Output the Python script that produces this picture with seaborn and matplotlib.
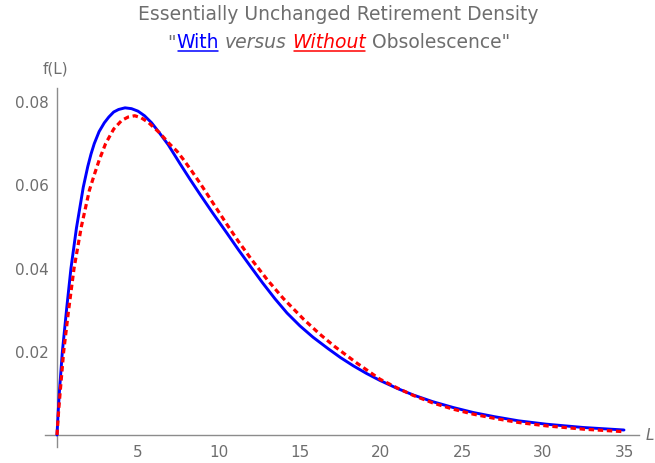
import numpy as np
import pandas as pd
import matplotlib
matplotlib.use("Agg")
import matplotlib.pyplot as plt
import seaborn as sns
from matplotlib.lines import Line2D
from matplotlib.ticker import FixedLocator

# ---------------- data ----------------
L_with = [0, 0.08, 0.15, 0.33, 0.6, 0.86, 1.2, 1.62, 1.9, 2.1, 2.3, 2.6, 2.92, 3.2,
          3.5, 3.8, 4.2, 4.6, 5.0, 5.4, 5.84, 6.3, 6.87, 7.59, 8.2, 8.83, 9.6,
          10.47, 11.2, 12.0, 12.7, 13.46, 14.2, 15.0, 15.8, 16.75, 17.5, 18.3,
          19.1, 19.94, 21.0, 22.0, 23.2, 24.46, 25.7, 27.0, 28.5, 30.2, 32.5, 35.0]
f_with = [0, 0.0060, 0.0105, 0.0200, 0.0305, 0.0400, 0.0497, 0.0595, 0.0645,
          0.0675, 0.0700, 0.0729, 0.0750, 0.0764, 0.0776, 0.0782, 0.0786, 0.0784,
          0.0778, 0.0767, 0.0750, 0.0727, 0.0697, 0.0652, 0.0615, 0.0578, 0.0534,
          0.0486, 0.0445, 0.0402, 0.0365, 0.0327, 0.0293, 0.0262, 0.0235, 0.0207,
          0.0186, 0.0166, 0.0148, 0.0131, 0.0112, 0.0096, 0.0080, 0.0066, 0.0054,
          0.0044, 0.0034, 0.0026, 0.0018, 0.0012]

L_without = [0, 0.1, 0.2, 0.41, 0.7, 1.05, 1.5, 2.0, 2.3, 2.6, 3.0, 3.5, 4.0, 4.4,
             4.8, 5.2, 5.64, 6.3, 6.98, 7.4, 7.8, 8.3, 8.83, 9.6, 10.47, 11.2, 12.0,
             13.0, 13.97, 15.2, 16.2, 17.16, 18.5, 19.94, 21.0, 22.0, 23.2, 24.46,
             25.7, 27.0, 28.5, 30.2, 32.5, 35.0]
f_without = [0, 0.0058, 0.0105, 0.0200, 0.0295, 0.0400, 0.0500, 0.0588, 0.0625,
             0.0660, 0.0700, 0.0735, 0.0756, 0.0764, 0.0767, 0.0762, 0.0751, 0.0727,
             0.0698, 0.0682, 0.0662, 0.0635, 0.0605, 0.0559, 0.0507, 0.0465, 0.0422,
             0.0372, 0.0328, 0.0279, 0.0243, 0.0212, 0.0173, 0.0134, 0.0113, 0.0095,
             0.0077, 0.0062, 0.0050, 0.0040, 0.0030, 0.0022, 0.0014, 0.0008]

x_ticks = [5, 10, 15, 20, 25, 30, 35]
x_tick_labels = ["5", "10", "15", "20", "25", "30", "35"]
y_ticks = [0.02, 0.04, 0.06, 0.08]
y_tick_labels = ["0.02", "0.04", "0.06", "0.08"]

title_line1 = "Essentially Unchanged Retirement Density"
y_axis_label = "f(L)"
x_axis_label = "L"

# ---------------- style ----------------
sns.set_theme(style="white")
plt.rcParams["font.family"] = ["DejaVu Sans"]

GRAY = "#6e6e6e"
AXCOL = "#8c8c8c"
BLUE = "#0000ff"
RED = "#ff0000"

W, H = 655, 463
fig = plt.figure(figsize=(W / 100, H / 100), dpi=100)
fig.patch.set_facecolor("white")

# axes placement (pixels): x=0 at 57, x=35 at 624 ; y=0 at 435, y=0.08 at 102
xpx0, xpx35 = 57.0, 624.0
ypx0, ypx8 = 435.0, 102.0
sx = (xpx35 - xpx0) / 35.0
sy = (ypx0 - ypx8) / 0.08
xmin, xmax = -0.75, 35.9
ymin, ymax = -0.0029, 0.0833
left = xpx0 + xmin * sx
right = xpx0 + xmax * sx
top = ypx0 - ymax * sy
bottom = ypx0 - ymin * sy
ax = fig.add_axes([left / W, 1 - bottom / H, (right - left) / W, (bottom - top) / H])
ax.set_facecolor("white")

df_with = pd.DataFrame({"L": L_with, "f": f_with})
df_without = pd.DataFrame({"L": L_without, "f": f_without})

sns.lineplot(data=df_with, x="L", y="f", ax=ax, color=BLUE, lw=2.1,
             estimator=None, sort=False, errorbar=None, zorder=3)
sns.lineplot(data=df_without, x="L", y="f", ax=ax, color=RED, lw=2.3,
             estimator=None, sort=False, errorbar=None, zorder=4,
             linestyle=(0, (1.7, 1.15)), dash_capstyle="butt")

ax.set_xlim(xmin, xmax)
ax.set_ylim(ymin, ymax)
ax.set_xlabel("")
ax.set_ylabel("")

for s in ["top", "right"]:
    ax.spines[s].set_visible(False)
for s in ["left", "bottom"]:
    ax.spines[s].set_position(("data", 0))
    ax.spines[s].set_color(AXCOL)
    ax.spines[s].set_linewidth(1.0)

ax.xaxis.set_major_locator(FixedLocator(x_ticks))
ax.set_xticklabels(x_tick_labels)
ax.yaxis.set_major_locator(FixedLocator(y_ticks))
ax.set_yticklabels(y_tick_labels)
ax.xaxis.set_minor_locator(FixedLocator(np.arange(1, 36, 1)))
ax.yaxis.set_minor_locator(FixedLocator(np.arange(0.005, 0.0826, 0.005)))

ax.tick_params(which="both", direction="in", color=AXCOL, width=0.8,
               labelcolor=GRAY, labelsize=11)
ax.tick_params(which="major", length=4.2)
ax.tick_params(which="minor", length=2.4)
ax.tick_params(axis="x", which="major", pad=7)
ax.tick_params(axis="y", which="major", pad=6)
ax.grid(False)

# axis labels
fig.text(55 / W, 1 - 69 / H, y_axis_label, ha="center", va="center",
         fontsize=11, color=GRAY)
fig.text(646 / W, 1 - 435 / H, x_axis_label, ha="left", va="center",
         fontsize=11, color=GRAY, style="italic")

# title line 1
FS = 13.5
fig.text(338.5 / W, 1 - 19.5 / H, title_line1, ha="center", va="baseline",
         fontsize=FS, color=GRAY)

# title line 2 with mixed styles: (text, colour, style, underline, space before)
pieces = [('"', GRAY, "normal", False, False),
          ("With", BLUE, "normal", True, False),
          ("versus", GRAY, "italic", False, True),
          ("Without", RED, "italic", True, True),
          ('Obsolescence"', GRAY, "normal", False, True)]

fig.canvas.draw()
rend = fig.canvas.get_renderer()


def text_width(s, style):
    t = fig.text(0, 0, s, fontsize=FS, style=style)
    w = t.get_window_extent(rend).width
    t.remove()
    return w


space_w = text_width("a a", "normal") - text_width("aa", "normal")
widths = [text_width(p[0], p[2]) for p in pieces]
total = sum(widths) + space_w * sum(1 for p in pieces if p[4])
cx = 339.0
base_top = 48.5
x = cx - total / 2
for (s, col, st, ul, sp_before), w in zip(pieces, widths):
    if sp_before:
        x += space_w
    t = fig.text(x / W, 1 - base_top / H, s, ha="left", va="baseline",
                 fontsize=FS, color=col, style=st)
    if ul:
        bb = t.get_window_extent(rend)
        yline = 1 - (base_top + 2.5) / H
        fig.add_artist(Line2D([(bb.x0 + 1.5) / W, (bb.x1 - 1.0) / W], [yline, yline],
                              transform=fig.transFigure, color=col, lw=1.1))
    x += w

fig.savefig("out.png", dpi=100, facecolor="white")
